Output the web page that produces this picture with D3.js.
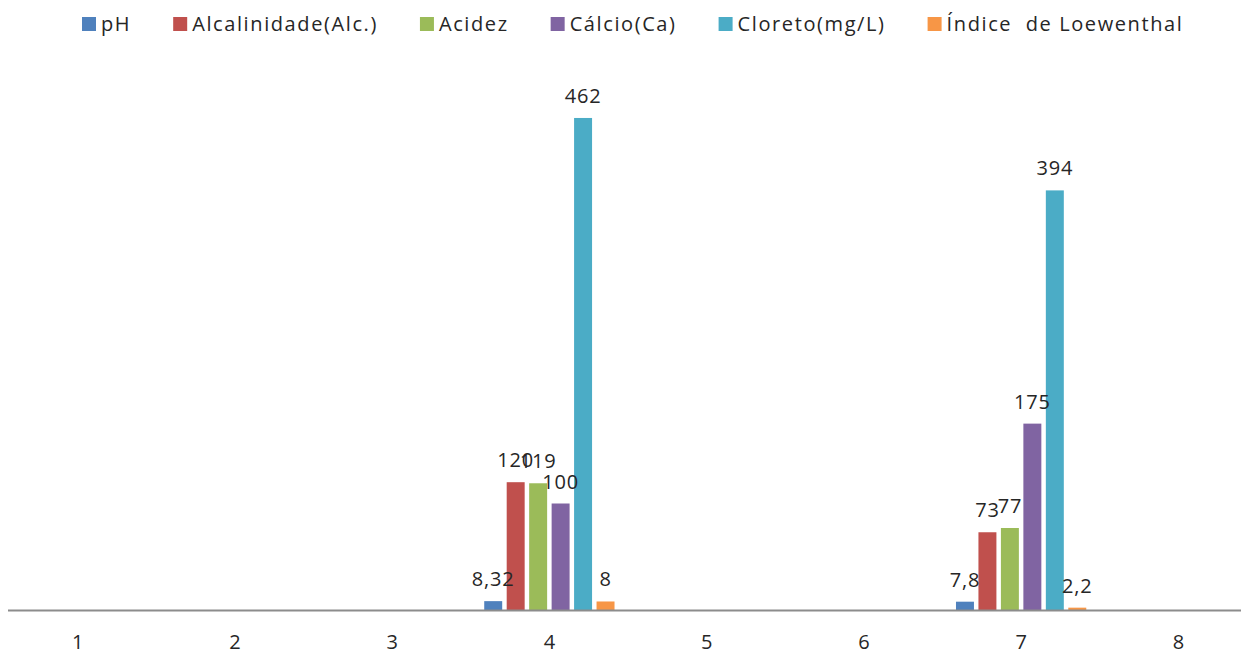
<!DOCTYPE html>
<html>
<head>
<meta charset="utf-8">
<script src="https://cdn.jsdelivr.net/npm/d3@7"></script>
<style>
  body { margin: 0; background: #fff; }
  text { font-family: "Open Sans", sans-serif; }
</style>
</head>
<body>
<div id="chart"></div>
<script>
var categories = ["1", "2", "3", "4", "5", "6", "7", "8"];
var seriesNames = ["pH", "Alcalinidade(Alc.)", "Acidez", "Cálcio(Ca)", "Cloreto(mg/L)", "Índice  de Loewenthal"];
var seriesColors = ["#4F81BD", "#C0504D", "#9BBB59", "#8064A2", "#4BACC6", "#F79646"];

// only categories 4 and 7 carry values
var pH         = [null, null, null, 8.32, null, null, 7.8, null];
var alcalin    = [null, null, null, 120,  null, null, 73,  null];
var acidez     = [null, null, null, 119,  null, null, 77,  null];
var calcio     = [null, null, null, 100,  null, null, 175, null];
var cloreto    = [null, null, null, 462,  null, null, 394, null];
var loewenthal = [null, null, null, 8,    null, null, 2.2, null];
var seriesValues = [pH, alcalin, acidez, calcio, cloreto, loewenthal];

var W = 1241, H = 654;
var svg = d3.select("#chart").append("svg")
    .attr("width", W).attr("height", H);

var x0 = d3.scaleBand().domain(categories).range([-1, 1257]).padding(0);
var x1 = d3.scaleBand().domain(seriesNames).range([0, x0.bandwidth()])
    .paddingInner(0.2).paddingOuter(0.6);
var y = d3.scaleLinear().domain([0, 500]).range([610, 77.5]);

var fmt = function (v) { return String(v).replace(".", ","); };

// bars
var groups = svg.selectAll("g.cat")
  .data(categories)
  .enter().append("g")
    .attr("class", "cat")
    .attr("transform", function (d) { return "translate(" + x0(d) + ",0)"; });

groups.each(function (c, ci) {
  var g = d3.select(this);
  var pts = seriesNames.map(function (s, si) {
    return { s: s, si: si, v: seriesValues[si][ci] };
  }).filter(function (p) { return p.v != null; });

  g.selectAll("rect").data(pts).enter().append("rect")
    .attr("x", function (p) { return x1(p.s); })
    .attr("y", function (p) { return y(p.v); })
    .attr("width", x1.bandwidth())
    .attr("height", function (p) { return y(0) - y(p.v); })
    .attr("fill", function (p) { return seriesColors[p.si]; });

  g.selectAll("text.lbl").data(pts).enter().append("text")
    .attr("class", "lbl")
    .attr("x", function (p) { return x1(p.s) + x1.bandwidth() / 2; })
    .attr("y", function (p) { return y(p.v) - 15; })
    .attr("text-anchor", "middle")
    .style("font-size", "20px")
    .style("letter-spacing", "0.8px")
    .style("fill", "#262626")
    .text(function (p) { return fmt(p.v); });
});

// category axis
svg.append("line")
  .attr("x1", 8).attr("x2", W)
  .attr("y1", y(0) + 0.5).attr("y2", y(0) + 0.5)
  .attr("stroke", "#8c8c8c").attr("stroke-width", 2);

svg.selectAll("text.tick")
  .data(categories)
  .enter().append("text")
    .attr("class", "tick")
    .attr("x", function (d) { return x0(d) + x0.bandwidth() / 2; })
    .attr("y", 649)
    .attr("text-anchor", "middle")
    .style("font-size", "20px")
    .style("fill", "#262626")
    .text(function (d) { return d; });

// legend
var legend = svg.append("g").attr("class", "legend");
var lx = 82;
seriesNames.forEach(function (s, i) {
  legend.append("rect")
    .attr("x", lx).attr("y", 17)
    .attr("width", 14).attr("height", 14)
    .attr("fill", seriesColors[i]);
  var t = legend.append("text")
    .attr("x", lx + 19).attr("y", 31)
    .style("font-size", "20px")
    .style("letter-spacing", "1.6px")
    .style("white-space", "pre")
    .style("fill", "#262626")
    .text(s);
  lx += 19 + t.node().getComputedTextLength() + 42;
});
</script>
</body>
</html>
